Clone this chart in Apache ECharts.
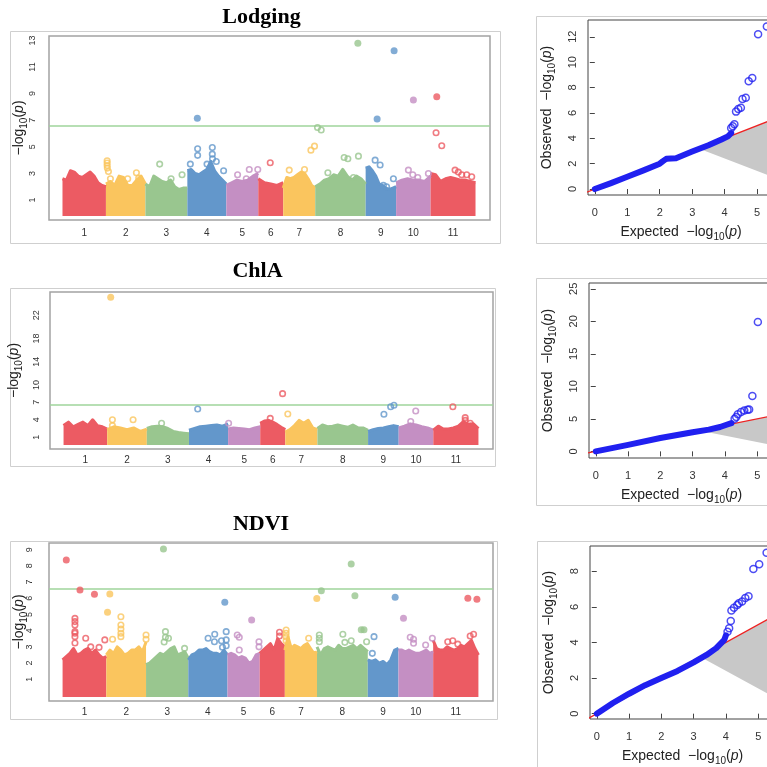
<!DOCTYPE html>
<html><head><meta charset="utf-8">
<script src="https://cdn.jsdelivr.net/npm/echarts@6/dist/echarts.min.js"></script>
<style>html,body{margin:0;padding:0;background:#fff}#c{width:767px;height:767px}</style>
</head><body><div id="c"></div>
<script>
// ---------------- data ----------------
const chrNames = ['1','2','3','4','5','6','7','8','9','10','11'];
const chrLen = [43.5, 39.5, 42, 39, 32, 25, 32, 50.5, 30.5, 34.5, 45];

const titles = ['Lodging', 'ChlA', 'NDVI'];
const lodgingTicks = [1, 3, 5, 7, 9, 11, 13];
const chlaTicks = [1, 4, 7, 10, 14, 18, 22];
const ndviTicks = [1, 2, 3, 4, 5, 6, 7, 8, 9];
const thresholds = [6.56, 6.66, 6.6];

// upper envelope of the dense point cloud, per chromosome (evenly spaced along it)
const lodgingEnv = [
  [2.6, 2.5, 3.2, 3.1, 2.8, 2.7, 2.9, 3.1, 2.8, 2.3, 2.1, 2.0],
  [2.2, 2.4, 2.1, 2.8, 2.7, 2.1, 2.1, 2.5, 2.8, 2.2],
  [2.2, 2.0, 2.8, 2.6, 2.4, 2.3, 2.5, 2.0, 1.8, 1.9, 1.9],
  [3.2, 3.3, 3.0, 2.9, 3.1, 3.3, 3.9, 3.2, 2.8, 2.5, 2.2],
  [2.1, 2.3, 2.5, 2.4, 2.5, 2.8, 3.0],
  [2.6, 2.3, 2.2, 2.1, 2.3],
  [1.9, 2.7, 2.6, 2.7, 2.9, 3.1, 3.0, 2.6, 2.1, 1.9],
  [2.0, 2.2, 2.5, 2.6, 2.9, 2.8, 3.3, 2.8, 2.5, 2.8, 2.6, 2.2],
  [3.4, 3.5, 3.2, 2.8, 2.2, 2.1, 1.9, 1.8, 1.9, 2.0],
  [2.3, 2.5, 2.6, 2.5, 2.5, 2.4, 2.8],
  [3.0, 2.9, 2.4, 2.6, 2.7, 2.6, 2.5, 2.5, 2.4, 2.3]
];
const chlaEnv = [
  [3.0, 3.6, 2.8, 3.2, 3.6, 3.0, 4.0, 3.0, 2.8, 2.4],
  [2.3, 2.8, 2.6, 2.3, 2.6, 2.0, 2.4],
  [2.5, 2.8, 2.9, 2.8, 2.5, 2.0, 1.8, 1.7, 1.6],
  [2.2, 2.5, 2.8, 2.9, 3.0, 3.1, 2.9, 3.3],
  [2.4, 2.6, 2.5, 2.4, 2.3, 2.6, 2.8],
  [3.4, 3.8, 3.9, 3.6, 3.2, 2.7, 2.3],
  [1.9, 2.3, 3.0, 3.9, 3.4, 3.9, 2.6, 2.3],
  [2.5, 3.1, 2.8, 2.9, 3.1, 2.9, 2.7, 3.1, 2.6, 2.6, 2.2],
  [2.0, 2.3, 2.5, 2.6, 2.8, 3.0, 2.8],
  [2.6, 2.9, 3.3, 3.1, 2.8, 2.6, 2.2],
  [2.2, 2.9, 2.4, 2.4, 2.6, 2.9, 3.7, 3.2, 3.3, 2.5]
];
const ndviEnv = [
  [2.2, 2.4, 2.6, 2.9, 2.5, 2.6, 2.8, 2.9, 2.6, 2.8, 2.5, 2.3, 2.4],
  [2.5, 2.8, 2.6, 3.0, 2.8, 2.5, 2.6, 2.8, 2.8, 3.0, 2.7, 3.3],
  [1.9, 2.0, 2.2, 2.4, 2.6, 2.5, 2.7, 2.9, 3.0, 2.5, 2.6, 2.7, 2.3],
  [2.2, 2.5, 2.6, 2.8, 2.8, 2.9, 2.7, 2.6, 2.6, 2.5, 2.8, 2.5],
  [2.5, 2.6, 2.5, 2.3, 2.4, 2.3, 2.0, 2.1, 2.5, 2.6],
  [2.6, 2.8, 3.0, 3.2, 2.8, 3.5, 3.2, 3.0],
  [2.8, 3.6, 2.9, 3.1, 3.0, 2.9, 3.1, 3.2, 2.9, 2.6, 2.7],
  [3.0, 2.5, 2.9, 3.0, 2.9, 2.8, 3.1, 2.9, 2.9, 3.0, 3.1, 2.9, 3.1, 2.9, 2.7],
  [2.2, 2.1, 2.2, 2.0, 2.1, 1.9, 2.2, 2.8, 2.9],
  [2.8, 2.8, 2.7, 2.8, 2.7, 2.6, 2.6, 2.7, 2.8, 2.6, 2.7],
  [3.4, 2.9, 2.8, 2.8, 3.0, 2.9, 2.8, 2.9, 3.1, 3.0, 3.2, 3.4, 2.9, 2.5]
];

// individual SNPs: [chromosome, position within chromosome, -log10(p)]
const lodgingSig = [[4,10,7.14],[8,42.7,12.78],[9,11.5,7.09],[9,28.5,12.23],[10,17.3,8.52],[11,6.2,8.77]];
const lodgingPts = [
  [2,1.2,3.95],[2,1.2,3.78],[2,1.2,3.6],[2,1.4,3.4],[2,2.5,3.15],[2,4.5,2.6],[2,21.8,2.6],[2,30.5,3.05],[2,32.8,2.65],
  [3,14.3,3.7],[3,36.7,2.9],[3,25.7,2.6],
  [4,10.3,4.85],[4,10.3,4.36],[4,25,4.95],[4,25,4.45],[4,25.2,4.1],[4,29,3.9],[4,3,3.7],[4,19.7,3.7],[4,36.3,3.2],
  [5,23,3.3],[5,11.3,2.9],[5,31.5,3.3],[5,20,2.6],
  [6,12,3.8],
  [7,27.7,4.75],[7,31.3,5.05],[7,6,3.25],[7,21.3,3.3],
  [8,2.3,6.45],[8,6,6.26],[8,29,4.2],[8,32.7,4.1],[8,43.3,4.3],[8,12.7,3.05],[8,38.3,2.7],
  [9,9.5,4.0],[9,14.5,3.63],[9,27.8,2.6],[9,17.8,2.1],[9,21,2.0],
  [10,12.3,3.25],[10,16.7,2.9],[10,21.7,2.7],[10,32.3,3.0],
  [11,5.5,6.06],[11,11.2,5.08],[11,24.5,3.25],[11,27.8,3.1],[11,31.2,2.9],[11,36.2,2.9],[11,41.2,2.75]
];
const chlaSig = [[2,3.5,25.1]];
const chlaPts = [
  [6,22.3,8.5],[4,8.7,5.86],[7,2.5,5.0],[9,15.8,4.94],[9,22.5,6.25],[9,25.8,6.49],[10,17,5.5],[11,19.5,6.25],
  [2,5.2,4.0],[2,5.2,3.0],[2,25.8,4.0],[3,14.7,3.4],[5,0.5,3.4],[6,10,4.25],[10,12,3.7],
  [11,31.8,4.37],[11,31.8,3.9],[11,36.8,3.4],[11,36.8,2.9]
];
const ndviSig = [
  [1,3.7,8.36],[1,17.3,6.51],[1,31.7,6.25],[2,3.5,6.27],[2,1.2,5.14],[3,17.3,9.04],[4,36.3,5.75],[5,24,4.66],
  [7,31.8,5.98],[8,4.3,6.47],[8,34,8.12],[8,37.7,6.16],[8,44,4.05],[8,46.7,4.05],[9,27.2,6.06],[10,5,4.76],
  [11,34.5,6.0],[11,43.5,5.94]
];
const ndviPts = [
  [1,12.3,4.76],[1,12.3,4.56],[1,12.3,4.35],[1,12.3,3.94],[1,12.3,3.84],[1,12.3,3.63],[1,12.3,3.24],[1,23,3.53],[1,28,3.0],[1,42,3.43],[1,36.3,2.97],
  [2,14.5,4.86],[2,14.5,4.35],[2,14.5,4.1],[2,14.5,3.84],[2,14.5,3.63],[2,6.2,3.47],[2,39.5,3.73],[2,39.5,3.47],
  [3,19.3,3.94],[3,19.3,3.59],[3,22.3,3.53],[3,18,3.3],[3,38.3,2.91],
  [4,19.7,3.53],[4,26.3,3.78],[4,26,3.32],[4,33,3.38],[4,37.7,3.94],[4,37.7,3.43],[4,37.7,3.07],[4,34,2.98],
  [5,9.7,3.73],[5,11.7,3.59],[5,11.7,2.81],[5,31.3,3.32],[5,31.3,3.0],
  [6,19.7,3.9],[6,19.7,3.67],
  [7,1.3,4.04],[7,1.3,3.84],[7,1.3,3.63],[7,1.3,3.38],[7,23.7,3.53],
  [8,2.3,3.73],[8,2.3,3.53],[8,2.3,3.32],[8,25.7,3.78],[8,27.7,3.28],[8,34,3.38],[8,49.3,3.32],
  [9,6.2,3.63],[9,4.5,2.6],
  [10,11.7,3.59],[10,15,3.47],[10,15,3.22],[10,27,3.12],[10,33.7,3.53],
  [11,36.8,3.67],[11,40.2,3.78],[11,14.5,3.32],[11,19.5,3.38],[11,24.5,3.17]
];

// QQ plots: expected vs observed -log10(p)
const qqTicksX = [0, 1, 2, 3, 4, 5];
const qq1Ticks = [0, 2, 4, 6, 8, 10, 12];
const qq2Ticks = [0, 5, 10, 15, 20, 25];
const qq3Ticks = [0, 2, 4, 6, 8];
const qq1BulkE = [0, 0.5, 1, 1.5, 2, 2.1, 2.2, 2.5, 3, 3.5, 3.9, 4.1, 4.2];
const qq1BulkO = [0, 0.47, 0.97, 1.47, 2.0, 2.2, 2.38, 2.42, 2.95, 3.45, 3.9, 4.15, 4.4];
const qq1Tail = [[4.2,4.8],[4.25,4.95],[4.3,5.1],[4.35,6.1],[4.42,6.3],[4.5,6.4],[4.55,7.1],[4.65,7.2],[4.74,8.5],[4.85,8.75],[5.03,12.2],[5.3,12.8]];
const qq2BulkE = [0, 1, 2, 3, 3.5, 3.85, 4.05, 4.2];
const qq2BulkO = [0, 1.0, 2.05, 2.95, 3.35, 3.75, 4.1, 4.35];
const qq2Tail = [[4.3,5.0],[4.35,5.3],[4.4,5.7],[4.5,6.05],[4.6,6.3],[4.7,6.4],[4.75,6.45],[4.85,8.5],[5.02,19.9]];
const qq3BulkE = [0, 0.5, 1, 1.5, 2, 2.5, 3, 3.4, 3.7, 3.95, 4.0];
const qq3BulkO = [0, 0.6, 1.12, 1.6, 2.0, 2.4, 2.88, 3.3, 3.68, 4.15, 4.4];
const qq3Tail = [[4.05,4.6],[4.1,4.8],[4.15,5.2],[4.17,5.8],[4.25,5.95],[4.35,6.1],[4.4,6.2],[4.5,6.3],[4.6,6.5],[4.7,6.6],[4.85,8.13],[5.03,8.4],[5.26,9.04]];
const bandE = [3.2, 3.6, 4.0, 4.5, 5.0, 5.6];
const bandLo = [3.18, 3.52, 3.85, 4.2, 4.5, 4.85];
const bandHi = [3.22, 3.7, 4.2, 4.85, 5.7, 7.1];
const diagEnds = [-1, 30];

// ---------------- styling / layout ----------------
const palette = ['#EC5B63', '#FAC55E', '#99C68F', '#6397CB', '#C48FC3'];
const chrColor = i => palette[i % 5];
const FONT = '"Liberation Sans", Arial, sans-serif';
const starts = [];
{ let s = 0; chrLen.forEach(l => { starts.push(s); s += l; }); }
const centers = chrLen.map((l, i) => starts[i] + l / 2);

const manGrids = [
  {left: 49, top: 36, width: 441, height: 184, ymin: -0.5, ymax: 13.33, ticks: lodgingTicks, base: -0.2, lblMargin: 8, yMargin: 12, nameGap: 20},
  {left: 50, top: 292, width: 443, height: 157, ymin: -1.03, ymax: 26.0, ticks: chlaTicks, base: -0.35, lblMargin: 6, yMargin: 9, nameGap: 26},
  {left: 49, top: 543, width: 444, height: 158, ymin: -0.34, ymax: 9.41, ticks: ndviTicks, base: -0.1, lblMargin: 6, yMargin: 15, nameGap: 20}
];
const qqGrids = [
  {left: 588, top: 20, width: 186, height: 175, xmin: -0.21, xmax: 5.52, ymin: -0.47, ymax: 13.32, ticks: qq1Ticks},
  {left: 589, top: 283, width: 185, height: 175, xmin: -0.21, xmax: 5.52, ymin: -1.02, ymax: 25.9, ticks: qq2Ticks},
  {left: 590, top: 546, width: 185, height: 173, xmin: -0.21, xmax: 5.52, ymin: -0.3, ymax: 9.42, ticks: qq3Ticks}
];
const envs = [lodgingEnv, chlaEnv, ndviEnv];
const sigs = [lodgingSig, chlaSig, ndviSig];
const pts = [lodgingPts, chlaPts, ndviPts];
const qqData = [[qq1BulkE, qq1BulkO, qq1Tail], [qq2BulkE, qq2BulkO, qq2Tail], [qq3BulkE, qq3BulkO, qq3Tail]];

const nameRich = {
  s: {fontSize: 10, lineHeight: 10, verticalAlign: 'bottom', fontFamily: FONT, color: '#222'},
  i: {fontStyle: 'italic', fontSize: 14, fontFamily: FONT, color: '#222'}
};

const grid = [], xAxis = [], yAxis = [], series = [];

manGrids.forEach((g, k) => {
  grid.push({left: g.left, top: g.top, width: g.width, height: g.height, show: true, outerBoundsMode: 'none', containLabel: false,
    borderColor: '#a3a3a3', borderWidth: 1.5, backgroundColor: 'transparent'});
  xAxis.push({gridIndex: k, type: 'value', min: -13.5, max: 428,
    axisLine: {show: false}, axisTick: {show: false}, splitLine: {show: false},
    axisLabel: {customValues: centers, fontSize: 10, color: '#333', fontFamily: FONT, margin: g.lblMargin,
      formatter: v => { let b = 0; centers.forEach((c, i) => { if (Math.abs(c - v) < Math.abs(centers[b] - v)) b = i; }); return chrNames[b]; }}
  });
  yAxis.push({gridIndex: k, type: 'value', min: g.ymin, max: g.ymax,
    axisLine: {show: false}, axisTick: {show: false}, splitLine: {show: false},
    axisLabel: {customValues: g.ticks, rotate: 90, fontSize: 9, color: '#333', fontFamily: FONT, margin: g.yMargin},
    name: '−log{s|10}({i|p})', nameLocation: 'middle', nameRotate: 90, nameGap: g.nameGap, nameMoveOverlap: false,
    nameTextStyle: {fontSize: 14, color: '#222', fontFamily: FONT, lineHeight: 20, rich: nameRich}
  });
  envs[k].forEach((env, c) => {
    const n = env.length;
    const s = {
      type: 'line', xAxisIndex: k, yAxisIndex: k, silent: true, symbol: 'none', z: 2,
      data: env.map((v, i) => [starts[c] + chrLen[c] * i / (n - 1), v]),
      lineStyle: {color: chrColor(c), width: 3, join: 'round'},
      areaStyle: {color: chrColor(c), opacity: 1, origin: g.base}
    };
    if (c === 0) {
      s.markLine = {silent: true, symbol: 'none', label: {show: false}, z: 3,
        lineStyle: {color: '#9fd49b', width: 1.5, type: 'solid'}, data: [{yAxis: thresholds[k]}]};
    }
    series.push(s);
  });
  series.push({type: 'scatter', xAxisIndex: k, yAxisIndex: k, silent: true, z: 4, symbol: 'circle', symbolSize: 5.5,
    data: pts[k].map(p => ({value: [starts[p[0] - 1] + p[1], p[2]],
      itemStyle: {color: 'rgba(255,255,255,0)', borderColor: chrColor(p[0] - 1), borderWidth: 1.6}}))});
  series.push({type: 'scatter', xAxisIndex: k, yAxisIndex: k, silent: true, z: 5, symbol: 'circle', symbolSize: 7,
    data: sigs[k].map(p => ({value: [starts[p[0] - 1] + p[1], p[2]], itemStyle: {color: chrColor(p[0] - 1)}}))});
});

qqGrids.forEach((g, q) => {
  const k = q + 3;
  grid.push({left: g.left, top: g.top, width: g.width, height: g.height, show: true, outerBoundsMode: 'none', containLabel: false,
    borderColor: '#444', borderWidth: 1, backgroundColor: 'transparent'});
  xAxis.push({gridIndex: k, type: 'value', min: g.xmin, max: g.xmax,
    axisLine: {show: false}, splitLine: {show: false},
    axisTick: {show: true, customValues: qqTicksX, length: 5, lineStyle: {color: '#444'}},
    axisLabel: {customValues: qqTicksX, fontSize: 11, color: '#333', fontFamily: FONT, margin: 12},
    name: 'Expected  −log{s|10}({i|p})', nameLocation: 'middle', nameGap: 27, nameMoveOverlap: false,
    nameTextStyle: {fontSize: 14, color: '#222', fontFamily: FONT, lineHeight: 20, rich: nameRich}
  });
  yAxis.push({gridIndex: k, type: 'value', min: g.ymin, max: g.ymax,
    axisLine: {show: false}, splitLine: {show: false},
    axisTick: {show: true, customValues: g.ticks, length: 5, lineStyle: {color: '#444'}},
    axisLabel: {customValues: g.ticks, rotate: 90, fontSize: 11, color: '#333', fontFamily: FONT, margin: 10},
    name: 'Observed  −log{s|10}({i|p})', nameLocation: 'middle', nameRotate: 90, nameGap: 31, nameMoveOverlap: false,
    nameTextStyle: {fontSize: 14, color: '#222', fontFamily: FONT, lineHeight: 20, rich: nameRich}
  });
  series.push({type: 'line', xAxisIndex: k, yAxisIndex: k, silent: true, symbol: 'none', stack: 'band' + q, z: 1,
    data: bandE.map((e, i) => [e, bandLo[i]]), lineStyle: {width: 0, opacity: 0}});
  series.push({type: 'line', xAxisIndex: k, yAxisIndex: k, silent: true, symbol: 'none', stack: 'band' + q, z: 1,
    data: bandE.map((e, i) => [e, bandHi[i] - bandLo[i]]), lineStyle: {width: 0, opacity: 0},
    areaStyle: {color: '#c8c8c8', opacity: 1}});
  series.push({type: 'line', xAxisIndex: k, yAxisIndex: k, silent: true, symbol: 'none', z: 2,
    data: diagEnds.map(v => [v, v]), lineStyle: {color: '#ee2222', width: 1.3}});
  const [be, bo, tail] = qqData[q];
  series.push({type: 'line', xAxisIndex: k, yAxisIndex: k, silent: true, symbol: 'none', z: 3,
    data: be.map((e, i) => [e, bo[i]]), lineStyle: {color: '#2020f0', width: 6, cap: 'round', join: 'round'}});
  series.push({type: 'scatter', xAxisIndex: k, yAxisIndex: k, silent: true, z: 4, symbol: 'circle', symbolSize: 7,
    data: tail, itemStyle: {color: 'rgba(255,255,255,0)', borderColor: '#2020f0', borderWidth: 1.5}});
});

const frameStyle = {fill: 'none', stroke: '#cfcfcf', lineWidth: 1};
const graphic = [
  {type: 'rect', shape: {x: 10.5, y: 31.5, width: 490, height: 212}, style: frameStyle, silent: true, z: 0},
  {type: 'rect', shape: {x: 10.5, y: 288.5, width: 485, height: 178}, style: frameStyle, silent: true, z: 0},
  {type: 'rect', shape: {x: 10.5, y: 541.5, width: 487, height: 178}, style: frameStyle, silent: true, z: 0},
  {type: 'rect', shape: {x: 536.5, y: 16.5, width: 300, height: 227}, style: frameStyle, silent: true, z: 0},
  {type: 'rect', shape: {x: 536.5, y: 278.5, width: 300, height: 227}, style: frameStyle, silent: true, z: 0},
  {type: 'rect', shape: {x: 537.5, y: 541.5, width: 300, height: 300}, style: frameStyle, silent: true, z: 0}
];
[[261.5, 17], [257.5, 271], [261, 524]].forEach((p, i) => {
  graphic.push({type: 'text', x: p[0], y: p[1], silent: true, z: 10,
    style: {text: titles[i], font: 'bold 22px "Liberation Serif", "Times New Roman", serif', fill: '#000',
      align: 'center', verticalAlign: 'middle', textAlign: 'center', textVerticalAlign: 'middle'}});
});

const chart = echarts.init(document.getElementById('c'), null, {renderer: 'canvas'});
chart.setOption({
  animation: false,
  backgroundColor: '#fff',
  textStyle: {fontFamily: FONT},
  grid, xAxis, yAxis, series, graphic
});
</script>
</body></html>
